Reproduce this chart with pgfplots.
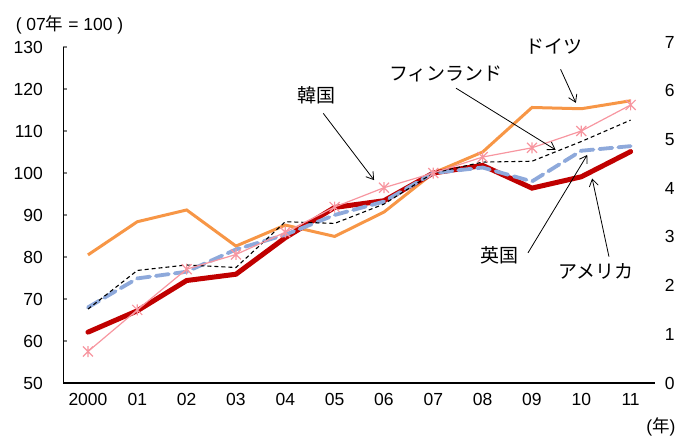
\documentclass[border=0pt]{standalone}
\usepackage{fontspec}
\setmainfont{Liberation Sans}
\newfontfamily\jp{Noto Sans CJK JP}
\usepackage{pgfplots}
\pgfplotsset{compat=1.18}
\usetikzlibrary{arrows.meta}
\definecolor{cDE}{RGB}{247,150,70}
\definecolor{cUS}{RGB}{192,0,0}
\definecolor{cUK}{RGB}{142,169,219}
\definecolor{cKR}{RGB}{247,150,160}
\pgfdeclareplotmark{xstar}{%
  \pgfpathmoveto{\pgfqpoint{0pt}{1.1\pgfplotmarksize}}%
  \pgfpathlineto{\pgfqpoint{0pt}{-1.1\pgfplotmarksize}}%
  \pgfpathmoveto{\pgfqpoint{-\pgfplotmarksize}{\pgfplotmarksize}}%
  \pgfpathlineto{\pgfqpoint{\pgfplotmarksize}{-\pgfplotmarksize}}%
  \pgfpathmoveto{\pgfqpoint{-\pgfplotmarksize}{-\pgfplotmarksize}}%
  \pgfpathlineto{\pgfqpoint{\pgfplotmarksize}{\pgfplotmarksize}}%
  \pgfusepathqstroke}
\pgfplotstableread{
x  de    us    uk    fi    kr
0  80.5  62.1  68.0  67.6  57.5
1  88.4  67.2  74.9  76.8  67.4
2  91.2  74.4  76.5  78.1  77.1
3  82.6  75.9  81.8  77.5  80.6
4  87.6  84.6  85.3  88.4  85.9
5  84.9  91.8  90.0  88.0  91.9
6  90.7  93.4  93.2  92.6  96.5
7  100   100   100   100   100
8  105.0 101.8 101.3 102.6 103.8
9  115.6 96.4  98.0  102.8 106.0
10 115.3 99.1  105.3 107.5 110.0
11 117.2 105.1 106.4 112.6 116.2
}\data
\newcommand{\nf}{\fontsize{17.5}{20}\selectfont}
\newcommand{\jf}{\fontsize{19}{22}\selectfont\jp}
\begin{document}
\begin{tikzpicture}
\begin{axis}[
  scale only axis, width=592pt, height=336pt,
  xmin=-0.5, xmax=11.5, ymin=50, ymax=130,
  axis x line*=bottom, axis y line*=left,
  axis line style={line width=1.3pt},
  xtick={0,...,11},
  xticklabels={2000,01,02,03,04,05,06,07,08,09,10,11},
  ytick={50,60,...,130},
  tick align=inside,
  xtick style={draw=none},
  ytick style={line width=1.1pt},
  major tick length=4pt,
  /pgf/number format/assume math mode=true,
  ticklabel style={font=\nf},
  yticklabel style={xshift=-17pt},
  xticklabel style={yshift=-7pt},
  clip=false,
]
\addplot[cDE, line width=3pt] table[x=x,y=de]{\data};
\addplot[cUS, line width=5pt, line cap=round] table[x=x,y=us]{\data};
\addplot[cUK, line width=3.8pt, dash pattern=on 13pt off 6pt, line cap=round] table[x=x,y=uk]{\data};
\addplot[black, line width=1.1pt, dash pattern=on 4pt off 3pt] table[x=x,y=fi]{\data};
\addplot[cKR, line width=1.2pt, mark=xstar, mark size=5pt, mark options={line width=1.2pt}] table[x=x,y=kr]{\data};

\node[font=\jf] at (axis cs:4.63,118.6) {韓国};
\draw[-{Straight Barb[length=7pt,width=9pt]}, line width=0.8pt] (axis cs:4.77,114.2) -- (axis cs:5.80,98.3);
\node[font=\jf] at (axis cs:7.26,123.7) {フィンランド};
\draw[-{Straight Barb[length=7pt,width=9pt]}, line width=0.8pt] (axis cs:7.46,120.2) -- (axis cs:9.48,105.5);
\node[font=\jf] at (axis cs:9.45,130.1) {ドイツ};
\draw[-{Straight Barb[length=7pt,width=9pt]}, line width=0.8pt] (axis cs:9.58,124.7) -- (axis cs:9.89,116.7);
\node[font=\jf] at (axis cs:8.34,80.5) {英国};
\draw[-{Straight Barb[length=7pt,width=9pt]}, line width=0.8pt] (axis cs:8.92,81.0) -- (axis cs:10.12,104.3);
\node[font=\jf] at (axis cs:10.29,76.5) {アメリカ};
\draw[-{Straight Barb[length=7pt,width=9pt]}, line width=0.8pt] (axis cs:10.56,80.1) -- (axis cs:10.22,98.7);

\node[font=\nf] at (rel axis cs:0.0105,1.065) {( 07{\jp 年} = 100 )};
\node[font=\nf] at (rel axis cs:1.0096,-0.131) {({\jp 年})};
\coordinate (O) at (rel axis cs:0,0);
\end{axis}
\begin{axis}[
  scale only axis, width=592pt, height=341pt,
  xmin=-0.5, xmax=11.5, ymin=0, ymax=7,
  axis x line=none, axis y line*=right,
  y axis line style={draw=none},
  ytick={0,...,7}, ytick style={draw=none},
  /pgf/number format/assume math mode=true,
  ticklabel style={font=\nf},
  yticklabel style={anchor=west, xshift=6pt},
]
\end{axis}
\pgfresetboundingbox
\path[use as bounding box] (O) ++(-63.3pt,-57pt) rectangle ++(679pt,440pt);
\end{tikzpicture}
\end{document}
